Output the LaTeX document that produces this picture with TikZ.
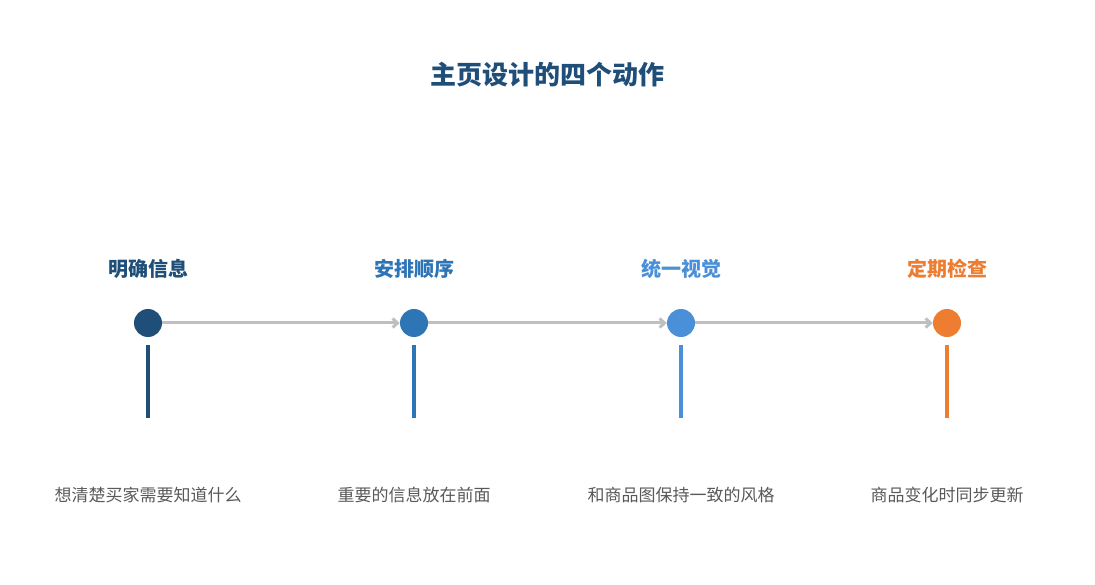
\documentclass[tikz,border=0pt]{standalone}
\usepackage{fontspec}
\newfontfamily\cjk{Noto Sans CJK SC}
\usetikzlibrary{arrows.meta}
\definecolor{c1}{HTML}{1F4E79}
\definecolor{c2}{HTML}{2E75B6}
\definecolor{c3}{HTML}{4A90D9}
\definecolor{c4}{HTML}{ED7D31}
\definecolor{gr}{HTML}{BFBFBF}
\definecolor{tx}{HTML}{595959}
\begin{document}
\begin{tikzpicture}[x=1pt,y=-1pt,
 dot/.style={circle,fill=#1,minimum size=28pt,inner sep=0pt},
 head/.style={font=\cjk\bfseries\fontsize{20}{24}\selectfont,text=#1},
 desc/.style={font=\cjk\fontsize{17}{20}\selectfont,text=tx},
 stem/.style={draw=#1,line width=3.5pt},
 conn/.style={draw=gr,line width=3pt,-{Straight Barb[length=5pt,width=9pt]}}]
\useasboundingbox (0,0) rectangle (1095,585);
\node[font=\cjk\bfseries\fontsize{26}{30}\selectfont,text=c1] (t) at (547,75) {主页设计的四个动作};
\foreach \i/\x/\c/\h/\d in {1/148/c1/明确信息/想清楚买家需要知道什么,2/414/c2/安排顺序/重要的信息放在前面,3/681/c3/统一视觉/和商品图保持一致的风格,4/947/c4/定期检查/商品变化时同步更新}{
 \node[head=\c] (h\i) at (\x,269) {\h};
 \node[dot=\c] (d\i) at (\x,323) {};
 \coordinate (a\i) at (\x,345);
 \coordinate (b\i) at (\x,418);
 \draw[stem=\c] (a\i) -- (b\i);
 \node[desc] (e\i) at (\x,495) {\d};
}
\draw[conn] (d1) -- (d2);
\draw[conn] (d2) -- (d3);
\draw[conn] (d3) -- (d4);
\end{tikzpicture}
\end{document}
